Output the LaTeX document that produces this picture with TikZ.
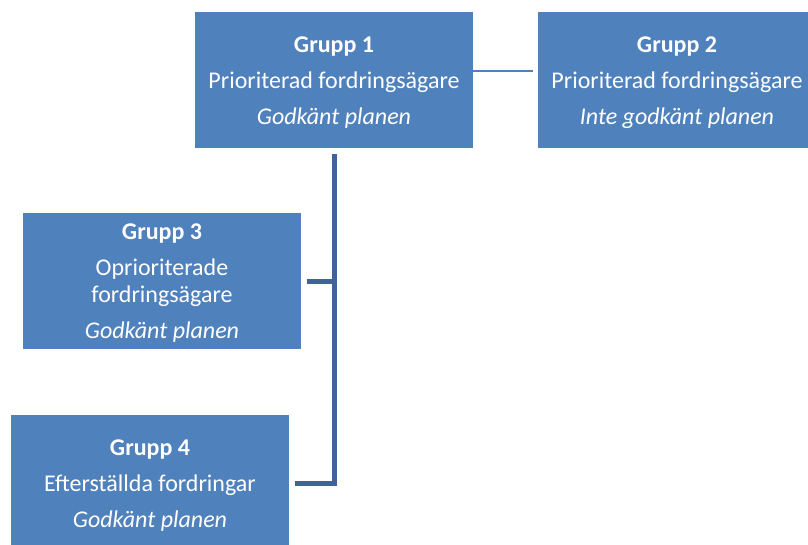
\documentclass[tikz,border=0pt]{standalone}
\usepackage{fontspec}
\setmainfont{Carlito}
\definecolor{boxblue}{RGB}{79,129,189}
\definecolor{linkblue}{RGB}{62,100,152}
\tikzset{
  grupp/.style={rectangle, fill=boxblue, minimum width=278pt,
    minimum height=136pt, inner sep=0pt},
  grupptext/.style={text=white, align=center, inner sep=0pt,
    font=\fontsize{24}{27}\selectfont},
  thinlink/.style={draw=boxblue, line width=2pt},
  trunk/.style={draw=linkblue, line width=5pt}
}
\begin{document}
\begin{tikzpicture}[x=1pt,y=-1pt]
\useasboundingbox (0,0) rectangle (808,544);
\clip (0,0) rectangle (808,544);
% boxes
\node[grupp] (g1) at (334,80) {};
\node[grupp] (g2) at (677,80) {};
\node[grupp] (g3) at (162,281) {};
\node[grupp] (g4) at (150,483) {};
% texts
\node[grupptext] (t1) at ([yshift=-2.5pt]g1.center) {\textbf{Grupp 1}\\[9pt] Prioriterad fordringsägare\\[9pt] \textit{Godkänt planen}};
\node[grupptext] (t2) at ([yshift=-2.5pt]g2.center) {\textbf{Grupp 2}\\[9pt] Prioriterad fordringsägare\\[9pt] \textit{Inte godkänt planen}};
\node[grupptext] (t3) at ([yshift=-2pt]g3.center) {\textbf{Grupp 3}\\[9pt] Oprioriterade\\ fordringsägare\\[9pt] \textit{Godkänt planen}};
\node[grupptext] (t4) at ([yshift=-3pt]g4.center) {\textbf{Grupp 4}\\[9pt] Efterställda fordringar\\[9pt] \textit{Godkänt planen}};
% links
\draw[thinlink, shorten >=5pt] ([yshift=9pt]g1.east) -- ([yshift=9pt]g2.west);
\draw[trunk] ([yshift=-6pt]g1.south) |- ([xshift=6pt]g4.east);
\draw[trunk] (g1.south |- g3.east) -- ([xshift=6pt]g3.east);
\end{tikzpicture}
\end{document}
